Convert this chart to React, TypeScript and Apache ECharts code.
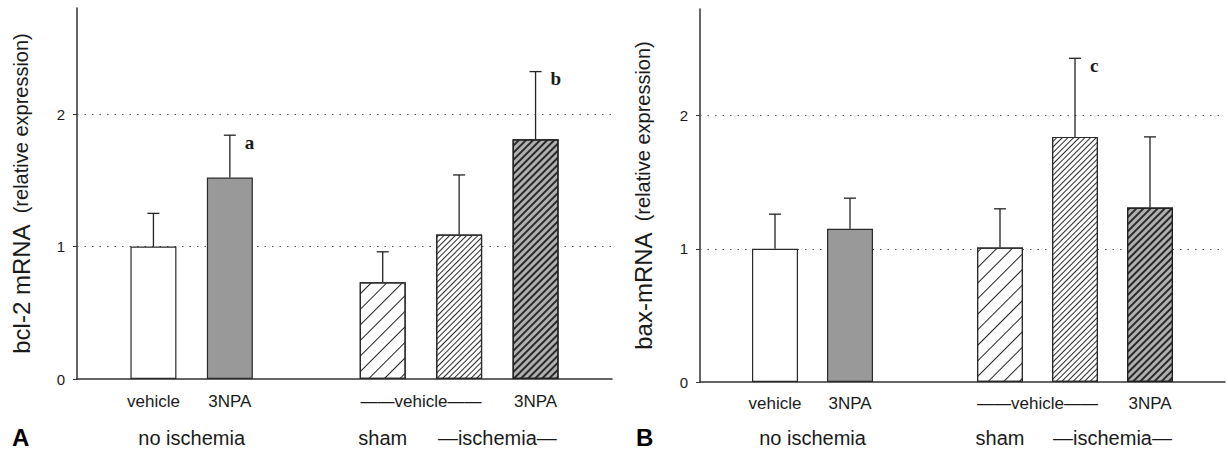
import React, { useEffect, useRef } from "react";
import * as echarts from "echarts";

// 15 half-slot categories along each x axis (bars sit on every other slot)
const slotIds = ["s0", "s1", "s2", "s3", "s4", "s5", "s6", "s7", "s8", "s9", "s10", "s11", "s12", "s13", "s14"];
const row1Labels = ["", "", "vehicle", "", "3NPA", "", "", "", "", "——vehicle——", "", "", "3NPA", "", ""];
const row2Labels = ["", "", "", "no ischemia", "", "", "", "", "sham", "", "", "—ischemia—", "", "", ""];
const barSlots = [2, 4, 8, 10, 12];
const barGroups = ["no ischemia vehicle", "no ischemia 3NPA", "sham vehicle", "ischemia vehicle", "ischemia 3NPA"];

const bcl2Means = [1.0, 1.52, 0.73, 1.09, 1.81];
const bcl2ErrTops = [1.25, 1.84, 0.96, 1.54, 2.32];
const bcl2Letters = ["", "a", "", "", "b"];

const baxMeans = [1.0, 1.15, 1.01, 1.84, 1.31];
const baxErrTops = [1.26, 1.38, 1.3, 2.43, 1.84];
const baxLetters = ["", "", "", "c", ""];

const yTicks = [0, 1, 2];
const gridValues = [1, 2];
const yMax = 2.8;

const FONT = '"Liberation Sans", Arial, Helvetica, sans-serif';
const INK = "#1a1a1a";

const barStyles: any[] = [
  { color: "#ffffff", borderColor: "#2a2a2a", borderWidth: 1.2 },
  { color: "#999999", borderColor: "#2a2a2a", borderWidth: 1.2 },
  {
    color: "#ffffff",
    borderColor: "#2a2a2a",
    borderWidth: 1.2,
    decal: {
      symbol: "rect",
      symbolSize: 1,
      color: "#222222",
      dashArrayX: [1, 0],
      dashArrayY: [1, 9.8],
      rotation: -Math.PI / 4,
    },
  },
  {
    color: "#ffffff",
    borderColor: "#2a2a2a",
    borderWidth: 1.2,
    decal: {
      symbol: "rect",
      symbolSize: 1,
      color: "#2a2a2a",
      dashArrayX: [1, 0],
      dashArrayY: [1, 2.2],
      rotation: -Math.PI / 4,
    },
  },
  {
    color: "#b0b0b0",
    borderColor: "#1f1f1f",
    borderWidth: 1.2,
    decal: {
      symbol: "rect",
      symbolSize: 1,
      color: "#2a2a2a",
      dashArrayX: [1, 0],
      dashArrayY: [1.5, 2.1],
      rotation: -Math.PI / 4,
    },
  },
];

function buildPanel(p: number, means: number[], errTops: number[], letters: string[]) {
  const barData: any[] = slotIds.map(() => "-");
  barSlots.forEach((s, i) => {
    barData[s] = { name: barGroups[i], value: means[i], itemStyle: barStyles[i] };
  });
  const bar = {
    type: "bar",
    xAxisIndex: p * 2,
    yAxisIndex: p,
    barWidth: 46,
    data: barData,
    z: 2,
    markLine: {
      silent: true,
      symbol: "none",
      label: { show: false },
      lineStyle: { color: "#555", width: 1, type: [1.5, 6] },
      data: gridValues.map((v) => ({ yAxis: v })),
      z: 1,
    },
  };
  const err = {
    type: "custom",
    xAxisIndex: p * 2,
    yAxisIndex: p,
    z: 3,
    data: barSlots.map((s, i) => [s, means[i], errTops[i]]),
    renderItem: (params: any, api: any) => {
      const x = api.value(0);
      const pTop = api.coord([x, api.value(1)]);
      const pErr = api.coord([x, api.value(2)]);
      const children: any[] = [
        {
          type: "line",
          shape: { x1: pTop[0], y1: pTop[1], x2: pErr[0], y2: pErr[1] },
          style: { stroke: "#222", lineWidth: 1.3 },
        },
        {
          type: "line",
          shape: { x1: pErr[0] - 6, y1: pErr[1], x2: pErr[0] + 6, y2: pErr[1] },
          style: { stroke: "#222", lineWidth: 1.3 },
        },
      ];
      const letter = letters[params.dataIndex];
      if (letter) {
        children.push({
          type: "text",
          x: pErr[0] + 15,
          y: pErr[1] + 7,
          style: {
            text: letter,
            font: 'bold 19px "Liberation Serif", "Times New Roman", serif',
            fill: INK,
            align: "left",
            verticalAlign: "middle",
          },
        });
      }
      return { type: "group", children };
    },
  };
  return [bar, err];
}

function xAxes(p: number, m1: number, m2: number) {
  return [
    {
      type: "category",
      gridIndex: p,
      data: slotIds,
      boundaryGap: false,
      axisLine: { show: true, lineStyle: { color: "#333", width: 1.5 } },
      axisTick: { show: false },
      splitLine: { show: false },
      axisLabel: {
        interval: 0,
        margin: m1,
        fontFamily: FONT,
        fontSize: 17,
        color: INK,
        formatter: (_v: string, idx: number) => row1Labels[idx],
      },
    },
    {
      type: "category",
      gridIndex: p,
      position: "bottom",
      data: slotIds,
      boundaryGap: false,
      axisLine: { show: false },
      axisTick: { show: false },
      splitLine: { show: false },
      axisLabel: {
        interval: 0,
        margin: m2,
        fontFamily: FONT,
        fontSize: 20,
        color: INK,
        formatter: (_v: string, idx: number) => row2Labels[idx],
      },
    },
  ];
}

function yAxis(p: number, mainName: string, gap: number) {
  return {
    type: "value",
    gridIndex: p,
    min: 0,
    max: yMax,
    interval: 1,
    name: `{a|${mainName}}{b|  (relative expression)}`,
    nameLocation: "middle",
    nameRotate: 90,
    nameGap: gap,
    nameTextStyle: {
      fontFamily: FONT,
      fontSize: 24,
      color: INK,
      rich: {
        a: { fontFamily: FONT, fontSize: 24, color: INK },
        b: { fontFamily: FONT, fontSize: 20, color: INK },
      },
    },
    axisLine: { show: true, lineStyle: { color: "#333", width: 1.5 } },
    axisTick: { show: true, length: 4, customValues: yTicks, lineStyle: { color: "#333" } },
    axisLabel: {
      customValues: yTicks,
      margin: 12,
      fontFamily: FONT,
      fontSize: 15,
      color: INK,
    },
    splitLine: { show: false },
  };
}

export default function App() {
  const ref = useRef<HTMLDivElement>(null);
  useEffect(() => {
    if (!ref.current) return;
    const chart = echarts.init(ref.current, null, { renderer: "svg" });
    chart.setOption({
      animation: false,
      backgroundColor: "#ffffff",
      grid: [
        { left: 77, top: 8, width: 535, bottom: 71, containLabel: false },
        { left: 700, top: 9, width: 532, bottom: 68, containLabel: false },
      ],
      xAxis: [...xAxes(0, 14, 49), ...xAxes(1, 13, 46)],
      yAxis: [yAxis(0, "bcl-2 mRNA", 44), yAxis(1, "bax-mRNA", 45)],
      series: [
        ...buildPanel(0, bcl2Means, bcl2ErrTops, bcl2Letters),
        ...buildPanel(1, baxMeans, baxErrTops, baxLetters),
      ],
      graphic: [
        {
          type: "text",
          left: 12,
          top: 425,
          style: { text: "A", font: `bold 24px ${FONT}`, fill: "#000" },
        },
        {
          type: "text",
          left: 636,
          top: 425,
          style: { text: "B", font: `bold 24px ${FONT}`, fill: "#000" },
        },
      ],
    });
    return () => chart.dispose();
  }, []);
  return (
    <div
      ref={ref}
      style={{ position: "fixed", left: 0, top: 0, width: 1228, height: 450, background: "#fff" }}
    />
  );
}
